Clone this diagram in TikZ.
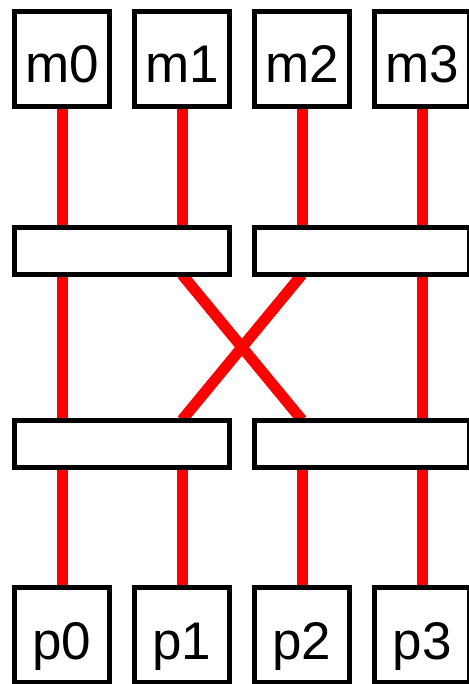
\documentclass[tikz,border=0pt]{standalone}
\usepackage{fontspec}
\setmainfont{Liberation Sans}
\usetikzlibrary{backgrounds}
\tikzset{cell/.style={draw=black,fill=white,line width=5pt,minimum width=95pt,minimum height=95pt,inner sep=0pt,outer sep=0pt,font=\fontsize{53}{60}\selectfont,text height=48pt,text depth=0pt}, stage/.style={draw=black,fill=white,line width=5pt,minimum width=215pt,minimum height=47pt,inner sep=0pt,outer sep=0pt}, wire/.style={draw=red,line width=11pt}}
\begin{document}
\begin{tikzpicture}[x=1pt,y=-1pt]
\useasboundingbox (0,0) rectangle (468,684);
\foreach \i in {0,...,3} {
  \node[cell] (m\i) at (62+120*\i,59) {m\i};
  \node[cell] (p\i) at (62+120*\i,635) {p\i};
}
\node[stage] (s0) at (122,251) {};
\node[stage] (s1) at (362,251) {};
\node[stage] (t0) at (122,443.5) {};
\node[stage] (t1) at (362,443.5) {};
\begin{scope}[on background layer]
\draw[wire] (m0)--(p0);
\draw[wire] (m3)--(p3);
\draw[wire] (m1)--(m1 |- s0);
\draw[wire] (m2)--(m2 |- s1);
\draw[wire] (m1 |- s0.south)--(m2 |- t1.north);
\draw[wire] (m2 |- s1.south)--(m1 |- t0.north);
\draw[wire] (p1 |- t0)--(p1);
\draw[wire] (p2 |- t1)--(p2);
\end{scope}
\end{tikzpicture}
\end{document}
